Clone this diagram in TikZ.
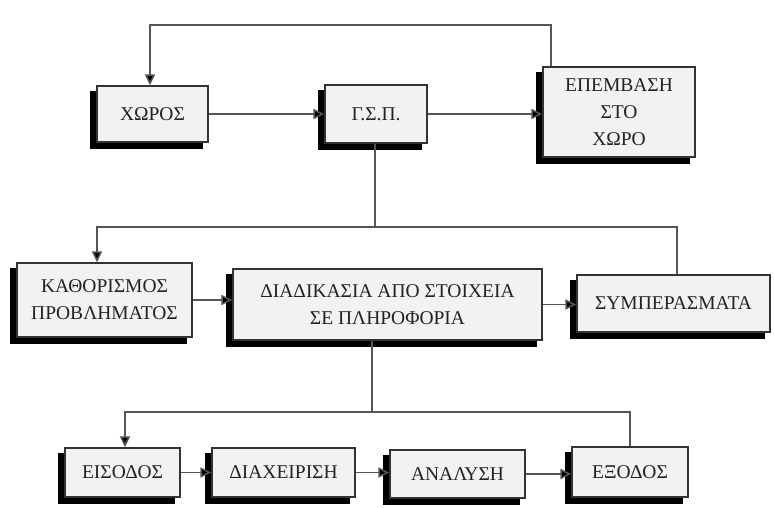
\documentclass[tikz,border=0pt]{standalone}
\usepackage{fontspec}
\setmainfont{Liberation Serif}
\usetikzlibrary{arrows.meta,calc,backgrounds}
\definecolor{boxfill}{HTML}{F2F2F2}
\definecolor{boxline}{HTML}{333333}
\definecolor{txt}{HTML}{222222}
\definecolor{conn}{HTML}{555555}
\begin{document}
\begin{tikzpicture}[x=1pt,y=-1pt,
  blk/.style={draw=boxline,line width=1.4pt,fill=boxfill,text=txt,align=center,
    inner sep=2pt,font=\fontsize{19.5}{27}\selectfont},
  shadowfill/.style={fill=black},
  conline/.style={draw=conn,line width=1.5pt},
  arr/.style={conline,-{Triangle[length=11pt,width=10pt,fill=black]}}]
\useasboundingbox (0,0) rectangle (774,507);
% top row
\node[blk,minimum width=111pt,minimum height=56pt] (chor) at (152.5,114) {ΧΩΡΟΣ};
\node[blk,minimum width=102pt,minimum height=58pt] (gsp) at (376,114) {Γ.Σ.Π.};
\node[blk,minimum width=152pt,minimum height=90pt] (epem) at (619,112) {ΕΠΕΜΒΑΣΗ\\ΣΤΟ\\ΧΩΡΟ};
% middle row
\node[blk,minimum width=175pt,minimum height=74pt] (kath) at (104.5,300) {ΚΑΘΟΡΙΣΜΟΣ\\ΠΡΟΒΛΗΜΑΤΟΣ};
\node[blk,minimum width=309pt,minimum height=71pt] (diad) at (387.5,304.5) {ΔΙΑΔΙΚΑΣΙΑ ΑΠΟ ΣΤΟΙΧΕΙΑ\\ΣΕ ΠΛΗΡΟΦΟΡΙΑ};
\node[blk,minimum width=193pt,minimum height=57pt] (symp) at (673.5,303.5) {ΣΥΜΠΕΡΑΣΜΑΤΑ};
% bottom row
\node[blk,minimum width=115pt,minimum height=49pt] (eis) at (122.5,472.5) {ΕΙΣΟΔΟΣ};
\node[blk,minimum width=143pt,minimum height=49pt] (diax) at (283.5,472.5) {ΔΙΑΧΕΙΡΙΣΗ};
\node[blk,minimum width=135pt,minimum height=48pt] (anal) at (457.5,474) {ΑΝΑΛΥΣΗ};
\node[blk,minimum width=116pt,minimum height=50pt] (exod) at (630,472) {ΕΞΟΔΟΣ};
% shadows (offset left and down)
\begin{scope}[on background layer]
\foreach \n in {chor,gsp,epem,kath,diad,symp,eis,diax,anal,exod}
  \fill[shadowfill] ($(\n.south west)+(-6,6)$) rectangle ($(\n.north east)+(-6,6)$);
\end{scope}
% route coordinates
\coordinate (t1) at (551,25);
\coordinate (t2) at (150,25);
\coordinate (m0) at (375,227);
\coordinate (m1) at (677,227);
\coordinate (m2) at (97,227);
\coordinate (b0) at (372,412);
\coordinate (b1) at (630,412);
\coordinate (b2) at (125,412);
% connectors
\draw[arr] (epem.north -| t1) -- (t1) -- (t2) -- (chor.north -| t2);
\draw[arr] (chor.east) -- (gsp.west);
\draw[arr] (gsp.east) -- (epem.west |- gsp.east);
\draw[conline] (gsp.south -| m0) -- (m0);
\draw[arr] (symp.north -| m1) -- (m1) -- (m2) -- (kath.north -| m2);
\draw[arr] (kath.east) -- (diad.west |- kath.east);
\draw[arr] (diad.east) -- (symp.west |- diad.east);
\draw[conline] (diad.south -| b0) -- (b0);
\draw[arr] (exod.north -| b1) -- (b1) -- (b2) -- (eis.north -| b2);
\draw[arr] (eis.east) -- (diax.west |- eis.east);
\draw[arr] (diax.east) -- (anal.west |- diax.east);
\draw[arr] (anal.east) -- (exod.west |- anal.east);
\end{tikzpicture}
\end{document}
